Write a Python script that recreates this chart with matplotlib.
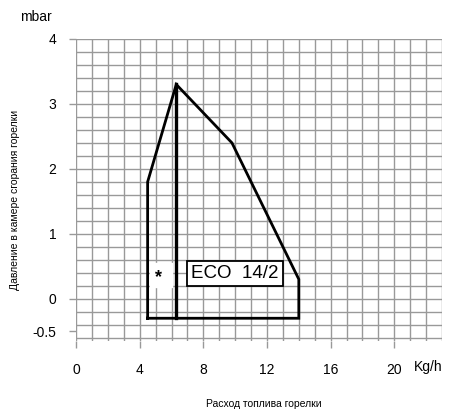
import numpy as np
import matplotlib
matplotlib.use('Agg')
import matplotlib.pyplot as plt

plt.rcParams['font.family'] = ['Liberation Sans', 'DejaVu Sans']

# working range outline (Kg/h, mbar)
range_x = [4.5, 4.5, 6.3, 9.8, 14.0, 14.0, 4.5]
range_y = [-0.3, 1.8, 3.3, 2.4, 0.3, -0.3, -0.3]
# vertical line from the peak
split_x = [6.3, 6.3]
split_y = [3.3, -0.3]

xticks = [0, 4, 8, 12, 16, 20]
yticks = [-0.5, 0, 1, 2, 3, 4]
yticklabels = ['-0.5', '0', '1', '2', '3', '4']

fig = plt.figure(figsize=(4.71, 4.09), dpi=100)
ax = fig.add_axes([0.1614, 0.1663, 0.7771, 0.7384])

ax.set_xlim(0, 23)
ax.set_ylim(-0.65, 4)

# grid paper
for gx in np.arange(0, 24, 1):
    ax.plot([gx, gx], [-0.65, 4], color='#999999', lw=1.0, zorder=1)
for gy in np.arange(-0.6, 4.01, 0.2):
    ax.plot([0, 23], [gy, gy], color='#999999', lw=1.0, zorder=1)

for s in ax.spines.values():
    s.set_visible(False)

ax.set_xticks(xticks)
ax.set_yticks(yticks)
ax.set_yticklabels(yticklabels)
ax.tick_params(axis='both', colors='#999999', length=5, width=1.0, labelcolor='black', labelsize=10)
ax.tick_params(axis='x', pad=11)
ax.tick_params(axis='y', pad=9)

ax.plot(range_x, range_y, color='black', lw=2, zorder=5, solid_joinstyle='miter')
ax.plot(split_x, split_y, color='black', lw=2.4, zorder=5)

ax.text(10.0, 0.39, 'ECO  14/2', fontsize=13.5, ha='center', va='center', zorder=6,
        bbox=dict(boxstyle='square,pad=0.22', fc='white', ec='black', lw=1.3))
# white patch behind the asterisk
ax.fill_between([4.65, 6.05], 0.18, 0.55, color='white', zorder=2)
ax.text(5.2, 0.33, '*', fontsize=13, fontweight='bold', ha='center', va='center', zorder=4)

fig.text(20 / 471, 1 - 17 / 409, 'mbar', fontsize=10, ha='left', va='center')
fig.text(428 / 471, 1 - 367 / 409, 'Kg/h', fontsize=10, ha='center', va='center')
fig.text(15 / 471, 1 - 200 / 409, 'Давление в камере сгорания горелки', fontsize=7.5,
         rotation=90, ha='center', va='center')
fig.text(264 / 471, 1 - 404 / 409, 'Расход топлива горелки', fontsize=7.5,
         ha='center', va='center')

fig.savefig('out.png', dpi=100)
